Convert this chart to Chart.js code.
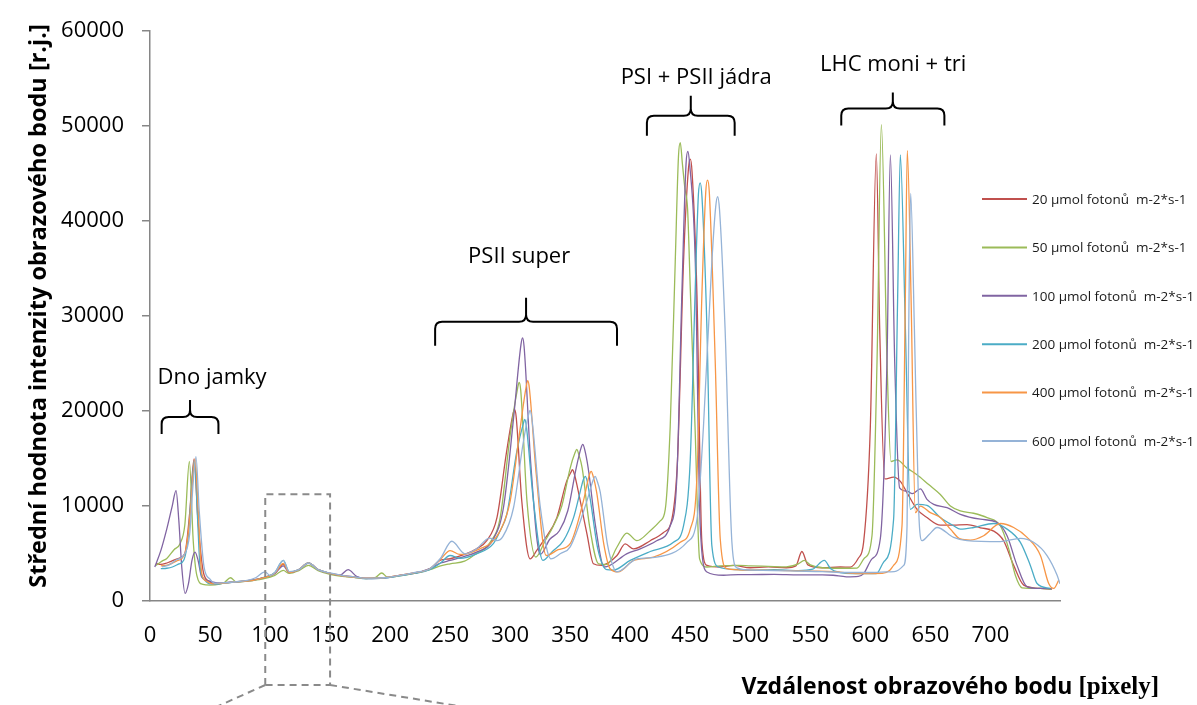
<!DOCTYPE html>
<html>
<head>
<meta charset="utf-8">
<script src="https://cdn.jsdelivr.net/npm/chart.js@4.4.1/dist/chart.umd.min.js"></script>
<style>
  html, body { margin: 0; padding: 0; background: #fff; }
  #wrap { width: 1197px; height: 705px; }
</style>
</head>
<body>
<div id="wrap"><canvas id="chart" width="1197" height="705"></canvas></div>
<script>
// light intensities (legend order)
const seriesNames = [
  "20 µmol fotonů  m-2*s-1",
  "50 µmol fotonů  m-2*s-1",
  "100 µmol fotonů  m-2*s-1",
  "200 µmol fotonů  m-2*s-1",
  "400 µmol fotonů  m-2*s-1",
  "600 µmol fotonů  m-2*s-1",
];

const xTicks = [0, 50, 100, 150, 200, 250, 300, 350, 400, 450, 500, 550, 600, 650, 700];
const yTicks = [0, 10000, 20000, 30000, 40000, 50000, 60000];

// profiles: pixel position / mean intensity
const x20 = [5, 9, 13, 17, 24, 29, 33, 36.7, 40, 44.5, 49, 53, 60,
  70, 85, 95, 104, 111, 116, 124, 132, 140, 150, 160, 170, 180, 195, 208,
  220, 233, 242, 250, 262, 272, 280.5, 289, 297, 302.2, 303.6, 305,
  309.7, 316.6, 322, 327.8, 338.9, 347, 350.4, 351.9, 353.4, 356, 364, 369.4, 376,
  389, 395.8, 402.8, 416.7, 427.8, 434.7, 439.4, 444.4, 448.5, 450, 451.5, 455.6, 459.7, 464, 475, 486,
  500, 515, 530, 538, 543, 548, 560, 575, 583.3,
  590, 594.4, 600, 605, 607.8, 612, 619.4, 625,
  630.6, 638.9, 647.2, 658.3, 669.4, 680.6, 691.7, 702.8, 711, 719.4, 727.8, 741.7, 751.4];
const y20 = [3950, 3850, 3950, 4150, 4500, 5000, 9200, 14950, 8400, 3000, 2100, 1850, 1900,
  2000, 2200, 2450, 2900, 3850, 3000, 3300, 4000, 3300, 2900, 2700, 2550, 2400, 2450, 2700,
  2950, 3400, 4300, 4450, 4900, 5500, 6350, 8780, 15700, 19600, 20170, 19400,
  10500, 4440, 5300, 6350, 8780, 12600, 13500, 13820, 13400, 12000, 7050, 3920, 3750,
  4790, 6010, 5490, 6350, 7220, 8610, 14860, 35700, 45500, 46530, 45200, 32200, 6180, 3750, 3580, 3750,
  3500, 3600, 3500, 3700, 5210, 3800, 3500, 3580, 3575,
  4500, 6180, 18300, 47080, 28750, 12850, 13050, 12600,
  11390, 9650, 8790, 7990, 8000, 8050, 7710, 7360, 6350, 3750, 1670, 1320, 1250];

const x50 = [5, 10, 14, 20, 25, 29, 32.8, 36, 39, 44, 50, 58,
  62, 67, 72, 85, 95, 104, 111, 116, 124, 132, 140, 150, 160, 170, 180, 188, 193, 198, 208,
  220, 233, 242, 250, 262, 269.4, 283.3, 291.7, 300, 306.2, 307.5, 308.8,
  314, 321.4, 329, 336.1, 343, 350, 354, 355.5, 357, 360, 366, 373.6,
  380.6, 388.9, 397.2, 405.6, 416.7, 425, 429.2, 433.3, 437.5, 440.2, 441.7, 443.5, 445.5, 447.8, 450, 454, 457.8, 463.9, 475, 490,
  500, 515, 530, 540, 545, 550, 560, 575, 588.9,
  595, 601.4, 605.6, 609.2, 613.9, 617.2, 622.2,
  630.6, 638.9, 648.6, 658.3, 666.7, 675, 686, 697.2, 708.3, 715.3, 720.8, 726.4, 741.7, 751];
const y50 = [3750, 4200, 4480, 5400, 6040, 8000, 14690, 6350, 2700, 1750, 1670, 1770,
  1950, 2450, 2000, 2150, 2350, 2700, 3230, 2900, 3200, 3750, 3200, 2800, 2600, 2500, 2350, 2500, 2950, 2500, 2650,
  2900, 3300, 3700, 3920, 4200, 4790, 6180, 8780, 17460, 22400, 23020, 22200,
  10520, 4620, 6300, 7920, 10000, 14000, 15600, 15970, 15500, 14000, 8000, 3920,
  3850, 5660, 7150, 6350, 7400, 8440, 9650, 18330, 35700, 46800, 48270, 46000, 43500, 41250, 33000, 18330, 4440, 3580, 3700, 3750,
  3700, 3650, 3600, 3900, 4270, 3800, 3500, 3450, 3470,
  4500, 6870, 25280, 50150, 25280, 14690, 14860,
  13990, 13300, 12260, 11220, 10000, 9480, 9240, 8780, 7920, 5490, 2710, 1390, 1320, 1250];

const x100 = [4, 9, 14, 18.5, 21.7, 24, 26.5, 29.2, 32, 35, 37.5, 40, 43, 50, 58,
  70, 85, 95, 104, 111, 116, 124, 132, 140, 150, 158, 165, 172, 180, 195, 208,
  220, 233, 242, 250, 262, 272, 286, 294.4, 302.8, 309, 310.3, 311.6,
  317.2, 325, 333, 341, 348, 355, 359, 360.5, 362, 365, 371, 378.3,
  383, 397, 408.3, 422, 433.3, 438.9, 443, 446.5, 448, 449.5, 454.2, 458.3, 463.9, 477.8, 490,
  500, 520, 540, 560, 569, 580, 590,
  594.4, 601.4, 608.3, 613.9, 616.7, 620.3, 624.4,
  630.6, 635, 641.7, 647.2, 652.8, 663.9, 675, 691.7, 705.6, 713.9, 722.2, 730.6, 741.7, 751];
const y100 = [3580, 5300, 7600, 10000, 11630, 8500, 3500, 800, 1800, 4300, 5140, 4300, 2530, 2080, 1870,
  2000, 2200, 2500, 2900, 3700, 3000, 3300, 4000, 3300, 2900, 2700, 3300, 2600, 2350, 2400, 2700,
  2900, 3400, 4000, 4270, 4700, 5140, 6520, 9820, 19200, 27000, 27710, 26800,
  14400, 4900, 6500, 7400, 9500, 14000, 16100, 16490, 16000, 14000, 8000, 3580,
  3750, 4970, 5490, 6350, 7920, 13130, 32220, 46000, 47330, 46000, 35700, 7920, 3060, 2710, 2780,
  2780, 2800, 2750, 2750, 2710, 2550, 2600,
  2880, 4440, 6530, 25280, 46980, 25280, 11910,
  11560, 11300, 11800, 10700, 10180, 9830, 9130, 8610, 8260, 6870, 3750, 1490, 1320, 1280];

const x200 = [9, 14, 18.6, 24, 28.3, 32, 35, 37, 39.5, 41.7, 45, 50, 55, 60,
  70, 85, 95, 104, 111, 116, 124, 132, 140, 150, 160, 170, 180, 195, 208,
  220, 233, 242, 250, 258, 272, 286, 291.7, 297.2, 305.5, 311, 312.2, 313.4,
  319.4, 327.2, 335, 344.4, 352.8, 358.3, 361, 362.5, 364, 367, 373, 380.5,
  386, 400, 416.7, 436, 444.4, 450, 454, 456.8, 458.3, 459.8, 463.9, 468, 473.6, 490,
  500, 520, 540, 552, 561.7, 567, 575, 585,
  605, 611.1, 619.4, 622.8, 625, 629.2, 633.3,
  638.9, 647.2, 658.3, 669.4, 675, 686.1, 702.8, 713.9, 725, 733.3, 738.9, 750];
const y200 = [3400, 3450, 3580, 3900, 4340, 7000, 12500, 14800, 9000, 3600, 2300, 1800, 1750, 1850,
  2000, 2150, 2450, 3000, 4270, 3050, 3300, 4000, 3300, 2900, 2650, 2500, 2350, 2400, 2650,
  2900, 3300, 4000, 4790, 4500, 4970, 6040, 7400, 9120, 15730, 18700, 19130, 18500,
  10520, 4270, 5200, 6350, 8780, 11500, 12800, 13130, 12700, 10500, 5500, 3300,
  3260, 4270, 5210, 6180, 7920, 14860, 32220, 42800, 44030, 42500, 28750, 5830, 3580, 3300,
  3250, 3300, 3200, 3350, 4270, 3400, 3000, 2880,
  2880, 4100, 8610, 32220, 46980, 28750, 9650,
  10180, 10060, 8790, 7920, 7570, 7740, 8160, 7570, 6180, 3750, 1840, 1320];

const x400 = [9, 15, 22, 29, 33, 36, 37.5, 40, 43, 47, 52, 60,
  70, 85, 95, 104, 111, 116, 124, 132, 140, 150, 160, 170, 180, 195, 208,
  220, 233, 242, 250, 258, 263.9, 275, 283.3, 291.7, 300, 308.3, 313.4, 314.7, 316,
  321.6, 330, 340, 350, 361, 366, 367.5, 369, 372, 378, 383.3,
  390, 402.8, 419.4, 441.7, 450, 455.6, 459.7, 462.9, 464.4, 465.9, 470.8, 475, 480.6, 495,
  510, 530, 550, 570, 590, 610,
  616, 619.4, 626.4, 629.2, 630.8, 633.9, 637.5,
  641.7, 650, 658.3, 666.7, 675, 683.3, 694.4, 708.3, 719.4, 730.6, 741.7, 748.6, 752.8, 757];
const y400 = [3700, 3800, 4200, 5000, 8500, 13500, 14970, 10000, 3000, 2100, 1800, 1850,
  2000, 2150, 2450, 2950, 3950, 3000, 3300, 4000, 3300, 2900, 2650, 2500, 2400, 2450, 2700,
  2950, 3400, 4400, 5310, 4900, 4970, 5500, 6040, 7400, 10520, 18160, 22600, 23190, 22400,
  13500, 4790, 5400, 6040, 10520, 13300, 13650, 13200, 11500, 6000, 3400,
  3060, 4270, 4620, 6180, 7570, 13130, 32220, 43000, 44310, 43000, 25280, 6530, 3400, 3250,
  3250, 3200, 3150, 3100, 2880, 2900,
  3200, 3750, 7920, 32220, 47430, 32220, 9300,
  10000, 9300, 8790, 7570, 6530, 6420, 6870, 8160, 7740, 6700, 4790, 1840, 1320, 2190];

const x600 = [10, 16, 22, 28, 33, 36, 38.3, 41, 45, 50, 54, 60,
  70, 80, 88, 95.8, 100, 104, 111, 116, 124, 132, 140, 150, 160, 170, 180, 195, 208,
  220, 233, 242, 251.4, 262.5, 272, 282.7, 288.9, 294, 302.8, 311, 315.3, 316.6, 317.9,
  325, 333.9, 342, 350, 363.9, 369.3, 370.8, 372.3, 375, 381, 386,
  388.9, 405.6, 422, 447.2, 455.6, 461, 468, 471.2, 472.8, 474.4, 479, 484.7, 488.9, 500,
  520, 540, 560, 580, 600, 620,
  627.8, 630.6, 632, 633.6, 636.7, 640.3, 643,
  649, 655.6, 669.4, 680.6, 708.3, 725, 736, 747.2, 755.6, 758];
const y600 = [3600, 3800, 4340, 4800, 7000, 12500, 15200, 9500, 3600, 2300, 1870, 1900,
  2000, 2150, 2450, 3060, 2700, 3000, 4270, 3100, 3300, 4000, 3300, 2950, 2700, 2550, 2400, 2450, 2700,
  3000, 3400, 4500, 6290, 4970, 5500, 6630, 6350, 6800, 9820, 16770, 19600, 20070, 19400,
  10000, 4440, 5000, 5700, 10520, 12800, 13130, 12700, 11500, 6000, 3580,
  3060, 4440, 4620, 6180, 8610, 18330, 35700, 41500, 42570, 41200, 28750, 6180, 3490, 3260,
  3200, 3150, 3100, 3000, 3000, 3100,
  3750, 7920, 28750, 42920, 28750, 9480, 6350,
  7000, 7740, 6700, 6350, 6250, 6600, 6180, 4790, 2710, 1800];

// band annotations (from / to in pixels of the profile, level in r.j.)
const bands = [
  { text: "Dno jamky", from: 9.7, to: 57, level: 19375, arm: 17, tip: 17, tx: 51.7, ty: 22900 },
  { text: "PSII super", from: 237.5, to: 389, level: 29400, arm: 24, tip: 24, tx: 307.5, ty: 35600 },
  { text: "PSI + PSII jádra", from: 413.9, to: 487, level: 51100, arm: 20, tip: 20, tx: 455, ty: 54450 },
  { text: "LHC moni + tri", from: 575.8, to: 661.7, level: 51850, arm: 17, tip: 16, tx: 619, ty: 55800 },
];

const colors = ["#C0504D", "#9BBB59", "#8064A2", "#4BACC6", "#F79646", "#95B3D7"];
const seriesX = [x20, x50, x100, x200, x400, x600];
const seriesY = [y20, y50, y100, y200, y400, y600];

Chart.defaults.font.family = "'Open Sans', sans-serif";
Chart.defaults.color = "#000";

function drawBrace(ctx, x0, x1, yl, arm, tip) {
  const r = 7;
  const cx = (x0 + x1) / 2;
  ctx.beginPath();
  ctx.moveTo(x0, yl + arm);
  ctx.lineTo(x0, yl + r);
  ctx.quadraticCurveTo(x0, yl, x0 + r, yl);
  ctx.lineTo(cx - r, yl);
  ctx.quadraticCurveTo(cx, yl, cx, yl - r);
  ctx.lineTo(cx, yl - tip);
  ctx.moveTo(x1, yl + arm);
  ctx.lineTo(x1, yl + r);
  ctx.quadraticCurveTo(x1, yl, x1 - r, yl);
  ctx.lineTo(cx + r, yl);
  ctx.quadraticCurveTo(cx, yl, cx, yl - r);
  ctx.stroke();
}

const decor = {
  id: "decor",
  afterDraw(chart) {
    const { ctx, scales: { x, y } } = chart;
    ctx.save();

    // braces + band names
    ctx.strokeStyle = "#000";
    ctx.lineWidth = 2;
    ctx.fillStyle = "#000";
    ctx.font = "22px 'Open Sans'";
    ctx.textAlign = "center";
    ctx.textBaseline = "alphabetic";
    bands.forEach((b) => {
      drawBrace(ctx, x.getPixelForValue(b.from), x.getPixelForValue(b.to), y.getPixelForValue(b.level), b.arm, b.tip);
      ctx.fillText(b.text, x.getPixelForValue(b.tx), y.getPixelForValue(b.ty));
    });

    // zoom frame below the axis
    const bl = x.getPixelForValue(96);
    const br = x.getPixelForValue(150);
    const bt = y.getPixelForValue(11250);
    const bb = 685;
    ctx.strokeStyle = "#8a8a8a";
    ctx.lineWidth = 2;
    ctx.setLineDash([7, 5]);
    ctx.beginPath();
    ctx.moveTo(bl, bb);
    ctx.lineTo(bl, bt);
    ctx.lineTo(br, bt);
    ctx.lineTo(br, bb);
    ctx.lineTo(bl, bb);
    ctx.moveTo(bl, bb);
    ctx.lineTo(bl - 47, bb + 21);
    ctx.moveTo(br, bb);
    ctx.lineTo(br + 128, bb + 21);
    ctx.stroke();
    ctx.setLineDash([]);

    // legend
    ctx.font = "13.5px 'Open Sans'";
    ctx.textAlign = "left";
    ctx.textBaseline = "middle";
    chart.data.datasets.forEach((ds, i) => {
      const ly = 199 + i * 48.4;
      ctx.strokeStyle = ds.borderColor;
      ctx.lineWidth = 2;
      ctx.beginPath();
      ctx.moveTo(982, ly);
      ctx.lineTo(1027, ly);
      ctx.stroke();
      ctx.fillStyle = "#1a1a1a";
      ctx.fillText(ds.label, 1032, ly + 1);
    });

    // axis titles
    ctx.fillStyle = "#000";
    ctx.save();
    ctx.translate(39, 306);
    ctx.rotate(-Math.PI / 2);
    ctx.textAlign = "center";
    ctx.textBaseline = "middle";
    ctx.font = "bold 23.5px 'Open Sans'";
    ctx.fillText("Střední hodnota intenzity obrazového bodu [r.j.]", 0, 0);
    ctx.restore();

    const sansPart = "Vzdálenost obrazového bodu ";
    const serifPart = "[pixely]";
    ctx.textAlign = "left";
    ctx.textBaseline = "alphabetic";
    ctx.font = "bold 25px 'Liberation Serif'";
    const serifW = ctx.measureText(serifPart).width;
    ctx.font = "bold 23px 'Open Sans'";
    const sansW = ctx.measureText(sansPart).width;
    const startX = 1159 - serifW - sansW;
    ctx.fillText(sansPart, startX, 694);
    ctx.font = "bold 25px 'Liberation Serif'";
    ctx.fillText(serifPart, startX + sansW, 694);

    ctx.restore();
  },
};

const datasets = seriesNames.map((name, i) => ({
  label: name,
  data: seriesX[i].map((v, k) => ({ x: v, y: seriesY[i][k] })),
  borderColor: colors[i],
  backgroundColor: colors[i],
  borderWidth: 1.3,
  pointRadius: 0,
  fill: false,
  cubicInterpolationMode: "monotone",
  order: seriesNames.length - i,
}));

new Chart(document.getElementById("chart"), {
  type: "line",
  data: { datasets },
  options: {
    responsive: false,
    animation: false,
    devicePixelRatio: 1,
    layout: { padding: { top: 25, right: 137, left: 0, bottom: 0 } },
    plugins: { legend: { display: false }, tooltip: { enabled: false } },
    scales: {
      x: {
        type: "linear",
        min: 0,
        max: 758,
        afterBuildTicks: (s) => { s.ticks = xTicks.map((v) => ({ value: v })); },
        afterFit: (s) => { s.height = 104; },
        grid: { display: false, drawTicks: false },
        border: { display: true, color: "#868686", width: 1.5 },
        ticks: { color: "#000", font: { size: 22 }, padding: 22, maxRotation: 0, autoSkip: false },
      },
      y: {
        min: 0,
        max: 60000,
        afterBuildTicks: (s) => { s.ticks = yTicks.map((v) => ({ value: v })); },
        afterFit: (s) => { s.width = 150; },
        grid: { drawOnChartArea: false, drawTicks: true, tickLength: 8, color: "#868686", lineWidth: 1.5 },
        border: { color: "#868686", width: 1.5 },
        ticks: { color: "#000", font: { size: 22 }, padding: 18, callback: (v) => String(v) },
      },
    },
  },
  plugins: [decor],
});
</script>
</body>
</html>
